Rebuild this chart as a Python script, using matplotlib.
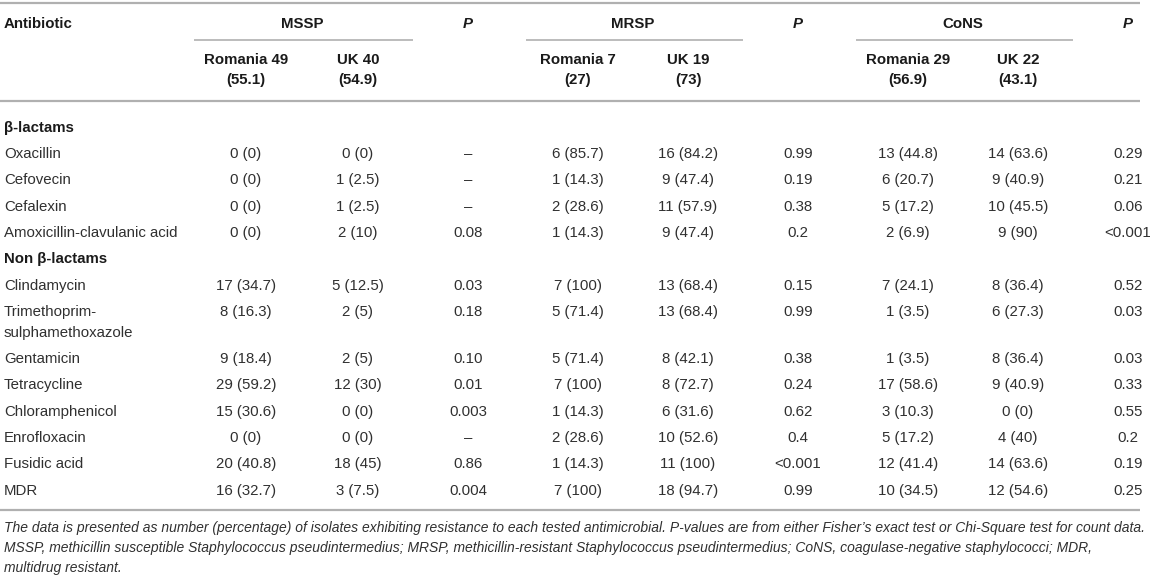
import matplotlib
matplotlib.use("Agg")
import matplotlib.pyplot as plt
from matplotlib import font_manager

# ---------------- data ----------------
groups = ["MSSP", "MRSP", "CoNS"]
sub_headers = [("Romania 49", "(55.1)"), ("UK 40", "(54.9)"),
               ("Romania 7", "(27)"), ("UK 19", "(73)"),
               ("Romania 29", "(56.9)"), ("UK 22", "(43.1)")]
section_beta = "β-lactams"
section_nonbeta = "Non β-lactams"
antibiotics_beta = ["Oxacillin", "Cefovecin", "Cefalexin", "Amoxicillin-clavulanic acid"]
antibiotics_nonbeta = ["Clindamycin", "Trimethoprim-\nsulphamethoxazole", "Gentamicin",
                       "Tetracycline", "Chloramphenicol", "Enrofloxacin", "Fusidic acid", "MDR"]

mssp_ro = ["0 (0)", "0 (0)", "0 (0)", "0 (0)", "17 (34.7)", "8 (16.3)", "9 (18.4)",
           "29 (59.2)", "15 (30.6)", "0 (0)", "20 (40.8)", "16 (32.7)"]
mssp_uk = ["0 (0)", "1 (2.5)", "1 (2.5)", "2 (10)", "5 (12.5)", "2 (5)", "2 (5)",
           "12 (30)", "0 (0)", "0 (0)", "18 (45)", "3 (7.5)"]
mssp_p = ["–", "–", "–", "0.08", "0.03", "0.18", "0.10", "0.01", "0.003", "–", "0.86", "0.004"]
mrsp_ro = ["6 (85.7)", "1 (14.3)", "2 (28.6)", "1 (14.3)", "7 (100)", "5 (71.4)", "5 (71.4)",
           "7 (100)", "1 (14.3)", "2 (28.6)", "1 (14.3)", "7 (100)"]
mrsp_uk = ["16 (84.2)", "9 (47.4)", "11 (57.9)", "9 (47.4)", "13 (68.4)", "13 (68.4)", "8 (42.1)",
           "8 (72.7)", "6 (31.6)", "10 (52.6)", "11 (100)", "18 (94.7)"]
mrsp_p = ["0.99", "0.19", "0.38", "0.2", "0.15", "0.99", "0.38", "0.24", "0.62", "0.4", "<0.001", "0.99"]
cons_ro = ["13 (44.8)", "6 (20.7)", "5 (17.2)", "2 (6.9)", "7 (24.1)", "1 (3.5)", "1 (3.5)",
           "17 (58.6)", "3 (10.3)", "5 (17.2)", "12 (41.4)", "10 (34.5)"]
cons_uk = ["14 (63.6)", "9 (40.9)", "10 (45.5)", "9 (90)", "8 (36.4)", "6 (27.3)", "8 (36.4)",
           "9 (40.9)", "0 (0)", "4 (40)", "14 (63.6)", "12 (54.6)"]
cons_p = ["0.29", "0.21", "0.06", "<0.001", "0.52", "0.03", "0.03", "0.33", "0.55", "0.2", "0.19", "0.25"]

footnote = [
    "The data is presented as number (percentage) of isolates exhibiting resistance to each tested antimicrobial. "
    "P-values are from either Fisher’s exact test or Chi-Square test for count data.",
    "MSSP, methicillin susceptible Staphylococcus pseudintermedius; MRSP, methicillin-resistant Staphylococcus "
    "pseudintermedius; CoNS, coagulase-negative staphylococci; MDR,",
    "multidrug resistant.",
]

# ---------------- layout ----------------
W, H = 1155, 578
fig = plt.figure(figsize=(W / 100, H / 100), dpi=100)
ax = fig.add_axes([0, 0, 1, 1])
ax.set_xlim(0, W)
ax.set_ylim(H, 0)
ax.axis("off")

FONT = "Liberation Sans"
names = {f.name for f in font_manager.fontManager.ttflist}
NARROW = "Liberation Sans Narrow" if "Liberation Sans Narrow" in names else FONT

body_size = 10.8
txt_col = "#303030"
hdr_col = "#1a1a1a"
line_col = "#b0b0b0"
BASE = 5.5  # baseline offset below the visual line centre (px)

col_x = [246, 358, 468, 578, 688, 798, 908, 1018, 1128]
left_x = 4
line_x0, line_x1 = 0, 1140


def hline(y, x0, x1, lw=1.6):
    ax.plot([x0, x1], [y, y], color=line_col, lw=lw, solid_capstyle="butt")


def put(x, yc, s, ha="center", bold=False, italic=False, color=txt_col):
    ax.text(x, round(yc + BASE), s, fontsize=body_size, family=FONT,
            fontweight="bold" if bold else "normal",
            style="italic" if italic else "normal",
            color=color, va="baseline", ha=ha)


# rules
hline(3, line_x0, line_x1)
hline(101, line_x0, line_x1)
hline(510, line_x0, line_x1)

# header row
put(left_x, 22.5, "Antibiotic", ha="left", bold=True, color=hdr_col)
for g, name in enumerate(groups):
    xa, xb = col_x[3 * g], col_x[3 * g + 1]
    put((xa + xb) / 2, 22.5, name, bold=True, color=hdr_col)
    hline(40, xa - 52, xb + 55, lw=1.2)
    put(col_x[3 * g + 2], 22.5, "P", bold=True, italic=True, color=hdr_col)

sub_cols = [0, 1, 3, 4, 6, 7]
for (l1, l2), ci in zip(sub_headers, sub_cols):
    put(col_x[ci], 58, l1, bold=True, color=hdr_col)
    put(col_x[ci], 79, l2, bold=True, color=hdr_col)

# body
columns = [mssp_ro, mssp_uk, mssp_p, mrsp_ro, mrsp_uk, mrsp_p, cons_ro, cons_uk, cons_p]
step = 26.3
extra = 21

put(left_x, 126.5, section_beta, ha="left", bold=True, color=hdr_col)
y = 152.5
row_y = []
for name in antibiotics_beta:
    row_y.append((name, y))
    y += step
put(left_x, y, section_nonbeta, ha="left", bold=True, color=hdr_col)
for name in antibiotics_nonbeta:
    y += step
    row_y.append((name, y))
    if "\n" in name:
        y += extra

for i, (name, yy) in enumerate(row_y):
    for k, p in enumerate(name.split("\n")):
        put(left_x, yy + k * extra, p, ha="left")
    for c, vals in enumerate(columns):
        put(col_x[c], yy, vals[i])

# footnote
fy = [528, 548, 567]
fig.canvas.draw()
renderer = fig.canvas.get_renderer()
probe = ax.text(left_x, fy[0], footnote[0], fontsize=10, family=NARROW, style="italic")
wpx = probe.get_window_extent(renderer).width
probe.remove()
fsize = 10 * (1142 / wpx)
for t, yy in zip(footnote, fy):
    ax.text(left_x, round(yy + 4.5), t, fontsize=fsize, family=NARROW, style="italic",
            color=txt_col, va="baseline", ha="left")

fig.savefig("out.png", dpi=100, facecolor="white")
